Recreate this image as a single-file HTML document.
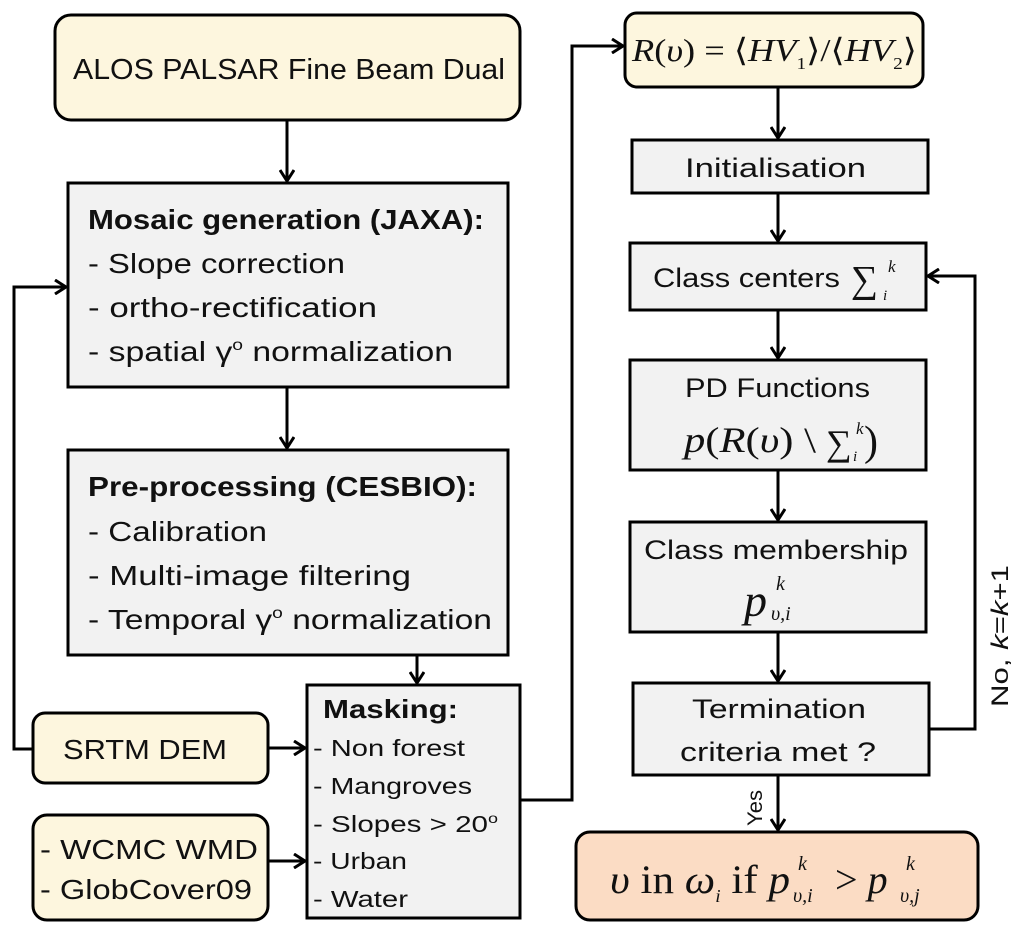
<!DOCTYPE html>
<html><head><meta charset="utf-8"><style>
html,body{margin:0;padding:0;background:#fff;}
svg{display:block;}
text{font-family:"Liberation Sans",sans-serif;fill:#111;}
.m{font-family:"Liberation Serif",serif;font-style:italic;}
.s{font-family:"Liberation Serif",serif;}
</style></head><body>
<svg width="1024" height="938" viewBox="0 0 1024 938" xmlns="http://www.w3.org/2000/svg">
<defs>
<marker id="a" markerWidth="16" markerHeight="16" refX="13" refY="8" orient="auto" markerUnits="userSpaceOnUse">
<path d="M2,1 L13,8 L2,15" fill="none" stroke="#000" stroke-width="3"/>
</marker>
</defs>
<g stroke="#000" stroke-width="3" fill="none">
<rect x="55" y="15" width="465" height="105" rx="16" fill="#fdf6de"/>
<rect x="68" y="183" width="440" height="204" fill="#f2f2f2"/>
<rect x="68" y="450" width="440" height="205" fill="#f2f2f2"/>
<rect x="307" y="685" width="213" height="233" fill="#f2f2f2"/>
<rect x="33" y="713" width="235" height="70" rx="12" fill="#fdf6de"/>
<rect x="33" y="815" width="235" height="105" rx="14" fill="#fdf6de"/>
<rect x="625" y="13" width="298" height="74" rx="12" fill="#fdf6de"/>
<rect x="632" y="140" width="296" height="53" fill="#f2f2f2"/>
<rect x="630" y="243" width="296" height="67" fill="#f2f2f2"/>
<rect x="630" y="360" width="296" height="110" fill="#f2f2f2"/>
<rect x="630" y="522" width="296" height="110" fill="#f2f2f2"/>
<rect x="633" y="683" width="296" height="92" fill="#f2f2f2"/>
<rect x="576" y="832" width="402" height="88" rx="14" fill="#fbdcc4"/>
<path d="M287,120 V181" marker-end="url(#a)"/>
<path d="M287,387 V448" marker-end="url(#a)"/>
<path d="M417,655 V683" marker-end="url(#a)"/>
<path d="M33,749 H14 V287 H66" marker-end="url(#a)"/>
<path d="M268,748 H305" marker-end="url(#a)"/>
<path d="M268,861 H305" marker-end="url(#a)"/>
<path d="M520,800 H572 V46 H623" marker-end="url(#a)"/>
<path d="M778,87 V138" marker-end="url(#a)"/>
<path d="M778,193 V241" marker-end="url(#a)"/>
<path d="M778,310 V358" marker-end="url(#a)"/>
<path d="M778,470 V520" marker-end="url(#a)"/>
<path d="M778,632 V681" marker-end="url(#a)"/>
<path d="M778,775 V830" marker-end="url(#a)"/>
<path d="M929,729 H975 V276 H928" marker-end="url(#a)"/>
</g>
<text x="73" y="79" font-size="29" textLength="432" lengthAdjust="spacingAndGlyphs">ALOS PALSAR Fine Beam Dual</text>
<text x="88" y="229" font-size="28" font-weight="bold" textLength="396" lengthAdjust="spacingAndGlyphs">Mosaic generation (JAXA):</text>
<text x="88" y="273" font-size="28" textLength="257" lengthAdjust="spacingAndGlyphs">- Slope correction</text>
<text x="88" y="317" font-size="28" textLength="289" lengthAdjust="spacingAndGlyphs">- ortho-rectification</text>
<text x="88" y="361" font-size="28" textLength="365" lengthAdjust="spacingAndGlyphs">- spatial γ<tspan font-size="16" dy="-11">o</tspan><tspan dy="11"> normalization</tspan></text>
<text x="88" y="496" font-size="28" font-weight="bold" textLength="389" lengthAdjust="spacingAndGlyphs">Pre-processing (CESBIO):</text>
<text x="88" y="541" font-size="28" textLength="179" lengthAdjust="spacingAndGlyphs">- Calibration</text>
<text x="88" y="585" font-size="28" textLength="323" lengthAdjust="spacingAndGlyphs">- Multi-image filtering</text>
<text x="88" y="629" font-size="28" textLength="404" lengthAdjust="spacingAndGlyphs">- Temporal γ<tspan font-size="16" dy="-11">o</tspan><tspan dy="11"> normalization</tspan></text>
<text x="323" y="718" font-size="26" font-weight="bold" textLength="135" lengthAdjust="spacingAndGlyphs">Masking:</text>
<text x="313" y="756" font-size="23" textLength="152" lengthAdjust="spacingAndGlyphs">- Non forest</text>
<text x="313" y="794" font-size="23" textLength="159" lengthAdjust="spacingAndGlyphs">- Mangroves</text>
<text x="313" y="832" font-size="23" textLength="185" lengthAdjust="spacingAndGlyphs">- Slopes &gt; 20<tspan font-size="14" dy="-9">o</tspan></text>
<text x="313" y="869" font-size="23" textLength="94" lengthAdjust="spacingAndGlyphs">- Urban</text>
<text x="313" y="907" font-size="23" textLength="95" lengthAdjust="spacingAndGlyphs">- Water</text>
<text x="63" y="759" font-size="28" textLength="164" lengthAdjust="spacingAndGlyphs">SRTM DEM</text>
<text x="40" y="859" font-size="28" textLength="218" lengthAdjust="spacingAndGlyphs">- WCMC WMD</text>
<text x="40" y="899" font-size="28" textLength="212" lengthAdjust="spacingAndGlyphs">- GlobCover09</text>
<text x="632" y="61" font-size="32" class="s" textLength="285" lengthAdjust="spacingAndGlyphs"><tspan font-style="italic">R</tspan>(<tspan font-style="italic">υ</tspan>) = ⟨<tspan font-style="italic">HV</tspan><tspan font-size="17" dy="8">1</tspan><tspan dy="-8">⟩/⟨</tspan><tspan font-style="italic">HV</tspan><tspan font-size="17" dy="8">2</tspan><tspan dy="-8">⟩</tspan></text>
<text x="685" y="177" font-size="27" textLength="181" lengthAdjust="spacingAndGlyphs">Initialisation</text>
<text x="653" y="287" font-size="27" textLength="187" lengthAdjust="spacingAndGlyphs">Class centers</text>
<text x="851" y="292" font-size="38" class="s">∑</text>
<text x="888" y="272" font-size="17" class="m">k</text>
<text x="883" y="300" font-size="15" class="m">i</text>
<text x="685" y="397" font-size="27" textLength="185" lengthAdjust="spacingAndGlyphs">PD Functions</text>
<text x="684" y="452" font-size="36" class="s" textLength="132" lengthAdjust="spacingAndGlyphs"><tspan font-style="italic">p</tspan>(<tspan font-style="italic">R</tspan>(<tspan font-style="italic">υ</tspan>) \</text>
<text x="826" y="455" font-size="36" class="s">∑</text>
<text x="856" y="434" font-size="17" class="m">k</text>
<text x="853" y="461" font-size="15" class="m">i</text>
<text x="864" y="455" font-size="42" class="s">)</text>
<text x="644" y="559" font-size="27" textLength="264" lengthAdjust="spacingAndGlyphs">Class membership</text>
<text x="744" y="616" font-size="46" class="m">p</text>
<text x="776" y="590" font-size="20" class="m">k</text>
<text x="771" y="620" font-size="20" class="m">υ,i</text>
<text x="692" y="718" font-size="27" textLength="174" lengthAdjust="spacingAndGlyphs">Termination</text>
<text x="680" y="761" font-size="27" textLength="196" lengthAdjust="spacingAndGlyphs">criteria met ?</text>
<text transform="translate(762,826) rotate(-90)" font-size="21" textLength="36" lengthAdjust="spacingAndGlyphs">Yes</text>
<text transform="translate(1008,707) rotate(-90)" font-size="24" textLength="142" lengthAdjust="spacingAndGlyphs">No, <tspan font-style="italic">k</tspan>=<tspan font-style="italic">k</tspan>+1</text>
<text x="610" y="893" font-size="40" class="s" textLength="180" lengthAdjust="spacingAndGlyphs"><tspan font-style="italic">υ</tspan> in <tspan font-style="italic">ω</tspan><tspan font-size="18" font-style="italic" dy="9">i</tspan><tspan dy="-9"> if </tspan><tspan font-style="italic">p</tspan></text>
<text x="798" y="870" font-size="20" class="m">k</text>
<text x="793" y="902" font-size="20" class="m">υ,i</text>
<text x="835" y="893" font-size="40" class="s">&gt; <tspan font-style="italic">p</tspan></text>
<text x="906" y="870" font-size="20" class="m">k</text>
<text x="900" y="902" font-size="20" class="m">υ,j</text>
</svg>
</body></html>
